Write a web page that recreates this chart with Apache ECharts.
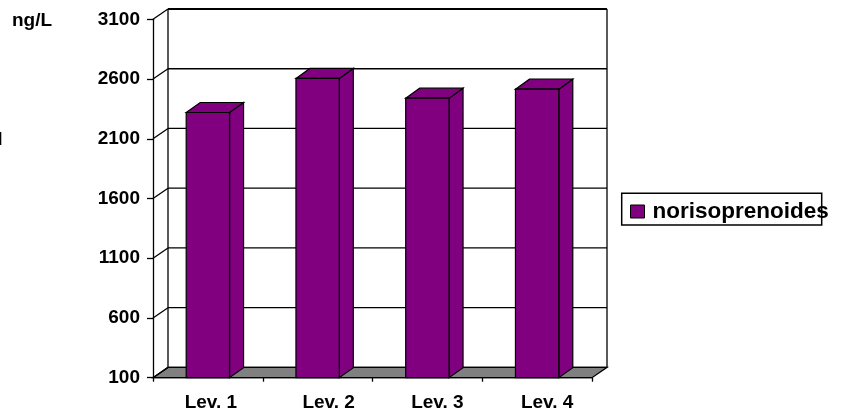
<!DOCTYPE html>
<html>
<head>
<meta charset="utf-8">
<script src="https://cdn.jsdelivr.net/npm/echarts@6/dist/echarts.min.js"></script>
<style>
html,body{margin:0;padding:0;background:#fff;}
#chart{width:848px;height:413px;}
</style>
</head>
<body>
<div id="chart"></div>
<script>
// ---- data ----
const categories = ['Lev. 1', 'Lev. 2', 'Lev. 3', 'Lev. 4'];
const values = [2320, 2605, 2440, 2515];
const yTicks = [100, 600, 1100, 1600, 2100, 2600, 3100];
const seriesName = 'norisoprenoides';
const unitLabel = 'ng/L';
const cutLabel = 'd';

// ---- styling / geometry (not data) ----
const yMin = yTicks[0], yMax = yTicks[yTicks.length - 1];
const DX = 15, DY = -10.3;      // wall depth
const BDX = 14, BDY = -10;      // bar depth
const FONT = 'Liberation Sans, Arial, sans-serif';
const labelShift = [6, 22, 20, 20];
const purple = '#800080';

const chart = echarts.init(document.getElementById('chart'), null, {renderer: 'canvas'});

const option = {
  animation: false,
  backgroundColor: '#fff',
  grid: {left: 153, right: 256, top: 19.3, bottom: 35.3, containLabel: false},
  legend: {
    data: [seriesName],
    left: 630, top: 200,
    padding: 0,
    itemWidth: 14, itemHeight: 13,
    icon: 'rect',
    itemStyle: {borderColor: '#000', borderWidth: 1},
    textStyle: {fontFamily: FONT, fontWeight: 'bold', fontSize: 22.5, color: '#000', padding: [0, 0, 0, 3]}
  },
  graphic: [
    {type: 'rect', z: 0, shape: {x: 621.7, y: 193.3, width: 200, height: 31.7},
     style: {fill: '#fff', stroke: '#000', lineWidth: 1.5}},
    {type: 'text', left: 12, top: 11,
     style: {text: unitLabel, font: 'bold 19px ' + FONT, fill: '#000'}},
    {type: 'text', x: -9, y: 140,
     style: {text: cutLabel, font: 'bold 19px ' + FONT, fill: '#000', verticalAlign: 'middle'}}
  ],
  xAxis: {
    type: 'category',
    data: categories.map((c, i) => ({value: c, textStyle: {padding: [0, 0, 0, labelShift[i]]}})),
    boundaryGap: true,
    axisLine: {lineStyle: {color: '#000', width: 1.3}},
    axisTick: {show: true, alignWithLabel: false, length: 4, lineStyle: {color: '#000', width: 1.3}},
    axisLabel: {fontFamily: FONT, fontWeight: 'bold', fontSize: 19, color: '#000', margin: 16},
    splitLine: {show: false}
  },
  yAxis: {
    type: 'value',
    min: yMin, max: yMax, interval: 500,
    axisLine: {show: true, lineStyle: {color: '#000', width: 1.3}},
    axisTick: {show: true, length: 6, lineStyle: {color: '#000', width: 1.3}},
    axisLabel: {fontFamily: FONT, fontWeight: 'bold', fontSize: 19, color: '#000', margin: 13,
      formatter: v => String(v)},
    splitLine: {show: false}
  },
  series: [
    {
      name: 'walls',
      type: 'custom',
      z: 1,
      silent: true,
      data: yTicks.map(v => [0, v]),
      encode: {x: 0, y: 1},
      renderItem: function (params, api) {
        const v = api.value(1);
        const cs = params.coordSys;
        const y = api.coord([0, v])[1];
        const x0 = cs.x, x1 = cs.x + cs.width;
        const ls = {stroke: '#000', lineWidth: 1.3, fill: null};
        const children = [];
        if (v === yMin) {
          const yTop = api.coord([0, yMax])[1];
          children.push({type: 'polygon', shape: {points: [[x0, y], [x0 + DX, y + DY], [x1 + DX, y + DY], [x1, y]]},
            style: {fill: '#808080', stroke: '#000', lineWidth: 1.3}});
          children.push({type: 'line', shape: {x1: x0 + DX, y1: yTop + DY, x2: x0 + DX, y2: y + DY}, style: ls});
          children.push({type: 'line', shape: {x1: x1 + DX, y1: yTop + DY, x2: x1 + DX, y2: y + DY}, style: ls});
        }
        children.push({type: 'line', shape: {x1: x0, y1: y, x2: x0 + DX, y2: y + DY}, style: ls});
        children.push({type: 'line', shape: {x1: x0 + DX, y1: y + DY, x2: x1 + DX, y2: y + DY},
          style: {stroke: '#000', lineWidth: v === yMax ? 2 : 1.3}});
        return {type: 'group', children: children};
      }
    },
    {
      name: seriesName,
      type: 'custom',
      z: 3,
      itemStyle: {color: purple},
      data: values.map((v, i) => [i, v]),
      encode: {x: 0, y: 1},
      renderItem: function (params, api) {
        const idx = api.value(0), v = api.value(1);
        const top = api.coord([idx, v]);
        const bot = api.coord([idx, yMin]);
        const bw = api.size([1, 0])[0] * 0.395;
        const xl = top[0] - bw / 2, xr = top[0] + bw / 2;
        const st = {fill: api.visual('color'), stroke: '#000', lineWidth: 1.2};
        return {type: 'group', children: [
          {type: 'polygon', shape: {points: [[xr, top[1]], [xr + BDX, top[1] + BDY], [xr + BDX, bot[1] + BDY], [xr, bot[1]]]}, style: st},
          {type: 'polygon', shape: {points: [[xl, top[1]], [xl + BDX, top[1] + BDY], [xr + BDX, top[1] + BDY], [xr, top[1]]]}, style: st},
          {type: 'rect', shape: {x: xl, y: top[1], width: bw, height: bot[1] - top[1]}, style: st}
        ]};
      }
    }
  ]
};
chart.setOption(option);
</script>
</body>
</html>
